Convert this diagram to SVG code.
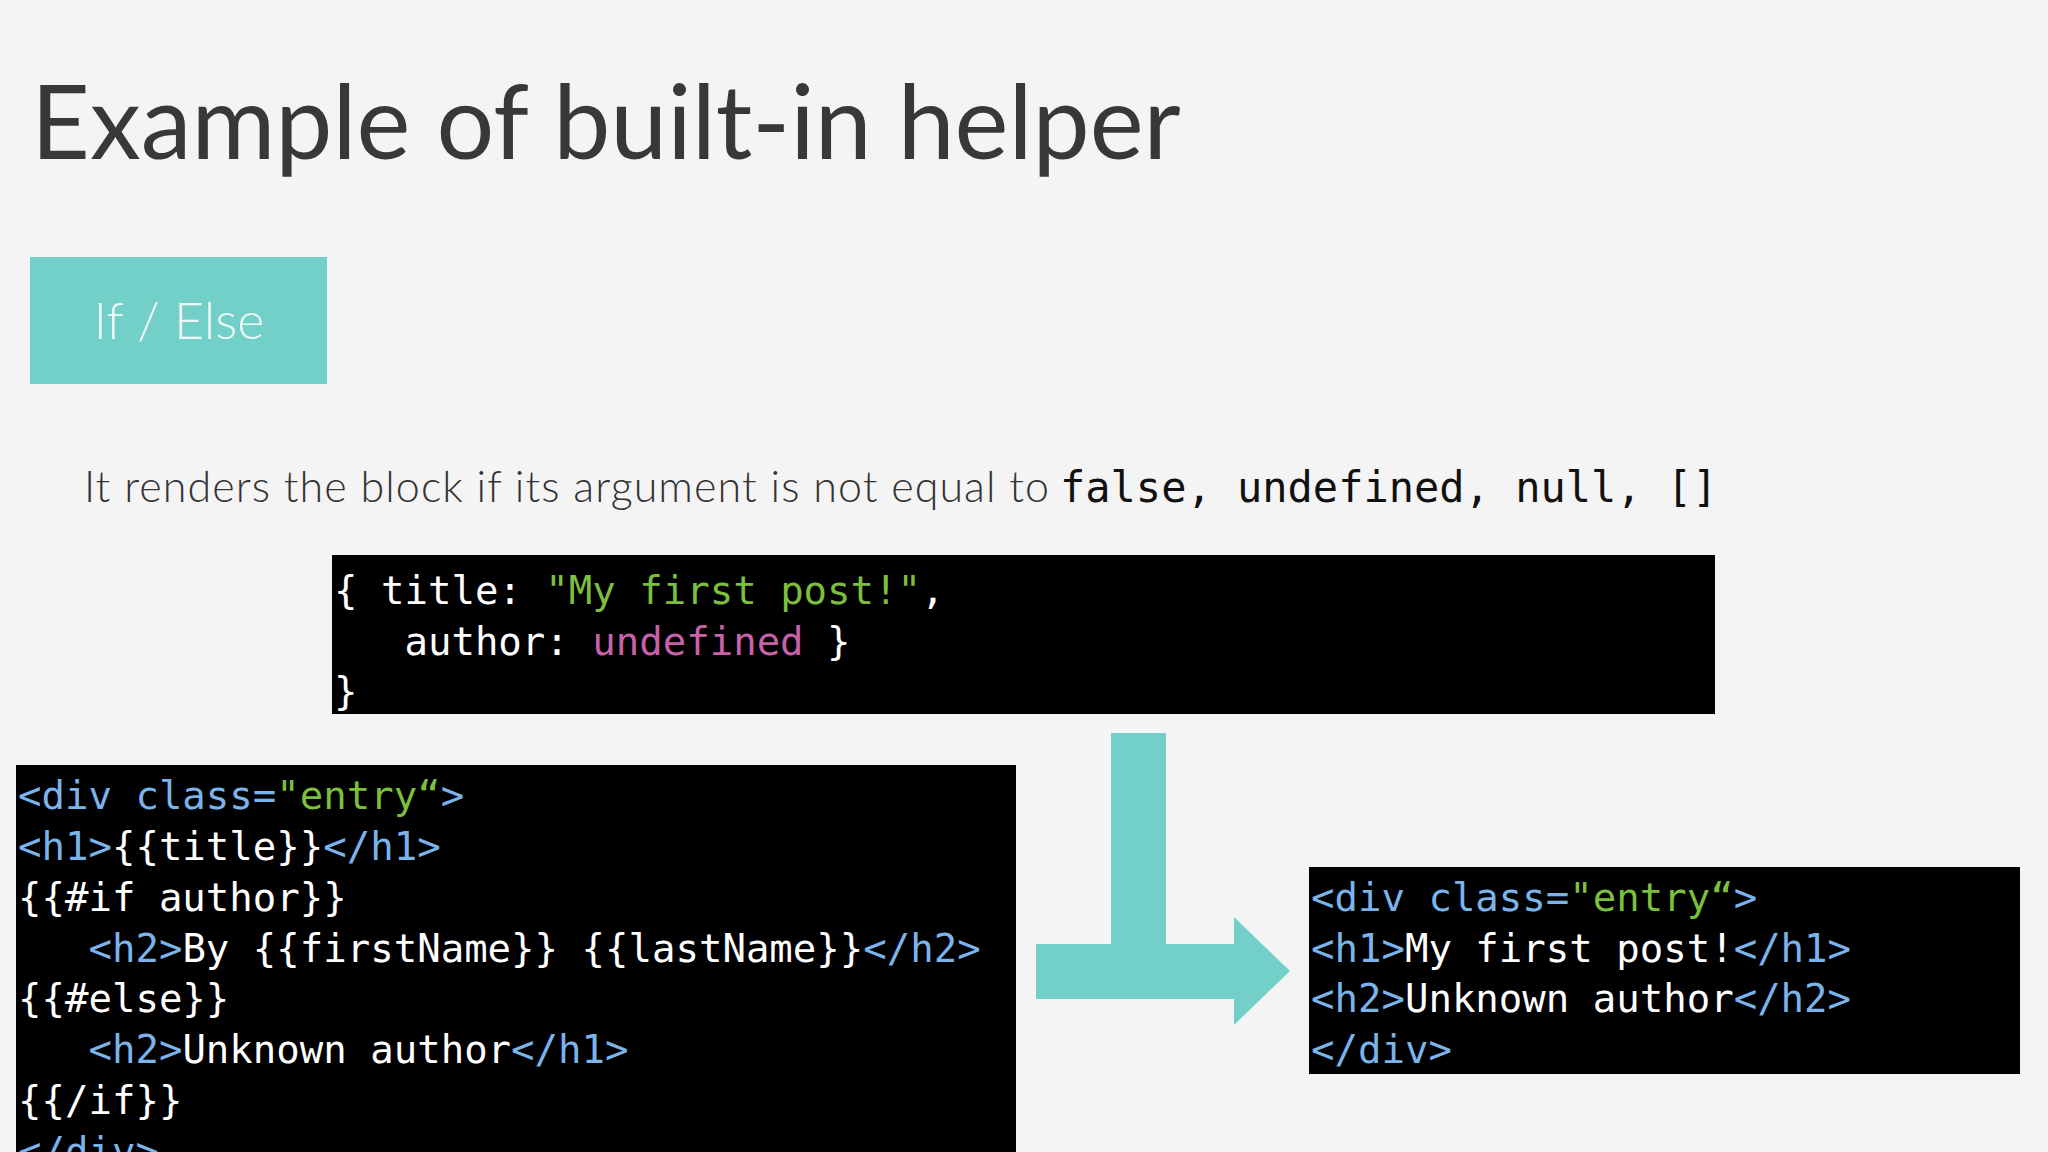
<svg xmlns="http://www.w3.org/2000/svg" width="2048" height="1152" viewBox="0 0 2048 1152" xml:space="preserve">
<style>
.m{font-family:"DejaVu Sans Mono","Liberation Mono",monospace;font-size:39px;fill:#fff;white-space:pre}
.t{fill:#7ab4ea}.s{fill:#7cbf3e}.u{fill:#c862a8}
.cb{fill:#000}
</style>
<rect width="2048" height="1152" fill="#f4f4f5"/>
<text x="31" y="159" font-family="Lato,'Open Sans',sans-serif" font-size="102" fill="#383838">Example of built-in helper</text>
<g id="ifelse"><rect x="30" y="257" width="297" height="127" fill="#72d0c8"/>
<text x="179" y="339" text-anchor="middle" font-family="Lato,sans-serif" font-size="52" fill="#eef8f7" font-weight="300">If / Else</text></g>
<text x="84" y="502" font-family="Lato,sans-serif" font-weight="300" font-size="43" fill="#333" textLength="965">It renders the block if its argument is not equal to</text>
<text x="1060" y="502" font-family="'DejaVu Sans Mono',monospace" font-size="42" fill="#111">false, undefined, null, []</text>
<g id="data"><rect class="cb" x="332" y="555" width="1383" height="159"/>
<text class="m" x="334" y="604">{ title: <tspan class="s">"My first post!"</tspan>,</text>
<text class="m" x="334" y="655">   author: <tspan class="u">undefined</tspan> }</text>
<text class="m" x="334" y="705">}</text></g>
<g id="template"><rect class="cb" x="16" y="765" width="1000" height="400"/>
<text class="m" x="18" y="809"><tspan class="t">&lt;div class=</tspan><tspan class="s">"entry“</tspan><tspan class="t">&gt;</tspan></text>
<text class="m" x="18" y="860"><tspan class="t">&lt;h1&gt;</tspan>{{title}}<tspan class="t">&lt;/h1&gt;</tspan></text>
<text class="m" x="18" y="911">{{#if author}}</text>
<text class="m" x="18" y="962">   <tspan class="t">&lt;h2&gt;</tspan>By {{firstName}} {{lastName}}<tspan class="t">&lt;/h2&gt;</tspan></text>
<text class="m" x="18" y="1012">{{#else}}</text>
<text class="m" x="18" y="1063">   <tspan class="t">&lt;h2&gt;</tspan>Unknown author<tspan class="t">&lt;/h1&gt;</tspan></text>
<text class="m" x="18" y="1114">{{/if}}</text>
<text class="m t" x="18" y="1165">&lt;/div&gt;</text></g>
<g id="result"><rect class="cb" x="1309" y="867" width="711" height="207"/>
<text class="m" x="1311" y="911"><tspan class="t">&lt;div class=</tspan><tspan class="s">"entry“</tspan><tspan class="t">&gt;</tspan></text>
<text class="m" x="1311" y="962"><tspan class="t">&lt;h1&gt;</tspan>My first post!<tspan class="t">&lt;/h1&gt;</tspan></text>
<text class="m" x="1311" y="1012"><tspan class="t">&lt;h2&gt;</tspan>Unknown author<tspan class="t">&lt;/h2&gt;</tspan></text>
<text class="m t" x="1311" y="1063">&lt;/div&gt;</text></g>
<g id="connectors"><path d="M1111 733H1166V944H1234V917L1290 971L1234 1025V999H1036V944H1111Z" fill="#72d0c8"/></g>
</svg>
